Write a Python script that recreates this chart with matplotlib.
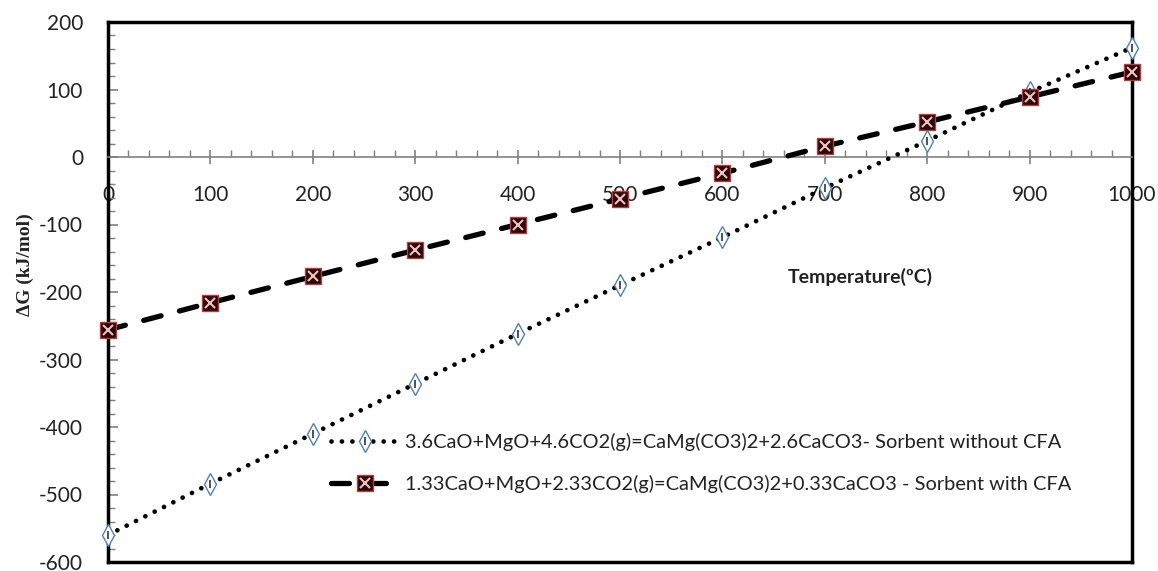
import matplotlib
matplotlib.use("Agg")
import matplotlib.pyplot as plt
from matplotlib.ticker import MultipleLocator

# data
temperature = [0, 100, 200, 300, 400, 500, 600, 700, 800, 900, 1000]
dg_without_cfa = [-560, -484, -410, -336, -262, -190, -119, -46, 24, 96, 162]
dg_with_cfa = [-256, -216, -177, -138, -100, -62, -24, 16, 52, 89, 126]

label_without = "3.6CaO+MgO+4.6CO2(g)=CaMg(CO3)2+2.6CaCO3- Sorbent without CFA"
label_with = "1.33CaO+MgO+2.33CO2(g)=CaMg(CO3)2+0.33CaCO3 - Sorbent with CFA"

x_label = "Temperature(\u00baC)"
y_label = "\u0394G (kJ/mol)"

plt.rcParams["font.family"] = ["Lato", "DejaVu Sans"]
plt.rcParams["axes.unicode_minus"] = False
TXT = "#222222"

fig = plt.figure(figsize=(11.58, 5.71), dpi=100)
ax = fig.add_axes([108 / 1158, 1 - 562 / 571, 1024 / 1158, 540 / 571])

# dotted series with open diamonds
l1, = ax.plot(temperature, dg_without_cfa, color="black", lw=3.4,
              ls=(0, (0.01, 2.2)), dash_capstyle="round",
              marker="d", ms=11, mfc="white", mec="#4f81bd", mew=1.0,
              zorder=3, clip_on=False)
m1, = ax.plot(temperature, dg_without_cfa, ls="none", marker="|", ms=6,
              mec="#333333", mew=1.2, zorder=4, clip_on=False)

# dashed series with patterned squares
l2, = ax.plot(temperature, dg_with_cfa, color="black", lw=3.8,
              ls=(0, (3.4, 3.6)), dash_capstyle="round",
              marker="s", ms=11, mfc="#2a0808", mec="#b04040", mew=1.0,
              zorder=3, clip_on=False)
m2, = ax.plot(temperature, dg_with_cfa, ls="none", marker="x", ms=7,
              mec="#f2c0c0", mew=1.5, zorder=4, clip_on=False)

ax.set_xlim(0, 1000)
ax.set_ylim(-600, 200)

# frame
for side in ("top", "right", "left"):
    ax.spines[side].set_color("black")
    ax.spines[side].set_linewidth(2.5)
ax.spines["bottom"].set_position(("data", 0))
ax.spines["bottom"].set_color("#808080")
ax.spines["bottom"].set_linewidth(1.2)
ax.plot([0, 1], [0, 0], transform=ax.transAxes, color="black", lw=2.5,
        clip_on=False, zorder=5)

ax.xaxis.set_major_locator(MultipleLocator(100))
ax.xaxis.set_minor_locator(MultipleLocator(20))
ax.yaxis.set_major_locator(MultipleLocator(100))
ax.yaxis.set_minor_locator(MultipleLocator(20))

ax.tick_params(axis="x", which="major", direction="inout", length=10,
               width=1.2, color="#808080", pad=15, labelsize=15,
               labelcolor=TXT)
ax.tick_params(axis="x", which="minor", direction="in", length=5,
               width=1.0, color="#808080")
ax.tick_params(axis="y", which="major", direction="in", length=7,
               width=1.2, color="#808080", pad=18, labelsize=15,
               labelcolor=TXT)
ax.tick_params(axis="y", which="minor", direction="in", length=5,
               width=1.0, color="#808080")

fig.text(25 / 1158, 1 - 265 / 571, y_label, rotation=90, ha="center",
         va="center", fontsize=14, fontweight="bold",
         family="Liberation Serif", color=TXT)
ax.text(0.735, 0.527, x_label, transform=ax.transAxes, ha="center",
        va="center", fontsize=14, fontweight="bold", color=TXT)

ax.legend([(l1, m1), (l2, m2)], [label_without, label_with],
          loc="upper left", bbox_to_anchor=(0.2, 0.272), frameon=False,
          fontsize=14.4, handlelength=3.4, handletextpad=0.3,
          labelspacing=1.2, labelcolor=TXT)

fig.savefig("out.png", dpi=100)
